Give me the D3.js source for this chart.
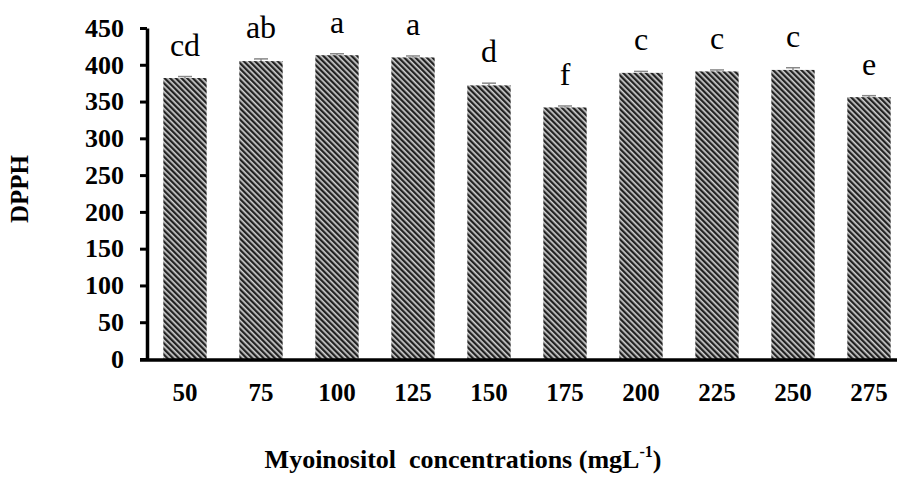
<!DOCTYPE html>
<html>
<head>
<meta charset="utf-8">
<script src="https://cdn.jsdelivr.net/npm/d3@7"></script>
<style>
  body { margin: 0; background: #fff; }
  svg { display: block; }
</style>
</head>
<body>
<script>
// data
var concentrations = ["50", "75", "100", "125", "150", "175", "200", "225", "250", "275"];
var dpph = [382, 405, 413, 410, 372, 342, 389, 391, 393, 356];
var errors = [2, 3, 2, 2, 3, 2, 2, 2, 3, 2];
var letters = ["cd", "ab", "a", "a", "d", "f", "c", "c", "c", "e"];
var yTicks = [0, 50, 100, 150, 200, 250, 300, 350, 400, 450];

var width = 897, height = 478;
var x0 = 147, y0 = 359, yTop = 28;

var svg = d3.select("body").append("svg")
  .attr("width", width)
  .attr("height", height)
  .attr("font-family", "'Liberation Serif', 'Times New Roman', serif");

// hatch fill like the original bars
var pat = svg.append("defs").append("pattern")
  .attr("id", "hatch")
  .attr("patternUnits", "userSpaceOnUse")
  .attr("width", 4)
  .attr("height", 4)
  .attr("patternTransform", "rotate(-45)");
pat.append("rect").attr("width", 4).attr("height", 4).attr("fill", "#cfcfcf");
pat.append("rect").attr("width", 2.3).attr("height", 4).attr("fill", "#222");

var x = d3.scaleBand()
  .domain(concentrations)
  .range([x0, x0 + 76 * concentrations.length])
  .paddingInner(0.43)
  .paddingOuter(0.215);

var y = d3.scaleLinear().domain([0, 450]).range([y0, yTop]);

// bars
svg.append("g").selectAll("rect")
  .data(dpph)
  .join("rect")
    .attr("x", (d, i) => x(concentrations[i]))
    .attr("y", d => y(d))
    .attr("width", x.bandwidth())
    .attr("height", d => y0 - y(d))
    .attr("fill", "url(#hatch)");

// error bars
var eb = svg.append("g").attr("stroke", "#888").attr("stroke-width", 1.5);
eb.selectAll("line.v")
  .data(dpph)
  .join("line")
    .attr("x1", (d, i) => x(concentrations[i]) + x.bandwidth() / 2)
    .attr("x2", (d, i) => x(concentrations[i]) + x.bandwidth() / 2)
    .attr("y1", d => y(d))
    .attr("y2", (d, i) => y(d + errors[i]));
eb.selectAll("line.cap")
  .data(dpph)
  .join("line")
    .attr("x1", (d, i) => x(concentrations[i]) + x.bandwidth() / 2 - 7)
    .attr("x2", (d, i) => x(concentrations[i]) + x.bandwidth() / 2 + 7)
    .attr("y1", (d, i) => y(d + errors[i]))
    .attr("y2", (d, i) => y(d + errors[i]));

// significance letters
svg.append("g").selectAll("text")
  .data(letters)
  .join("text")
    .attr("x", (d, i) => x(concentrations[i]) + x.bandwidth() / 2)
    .attr("y", (d, i) => y(dpph[i] + errors[i]) - 21)
    .attr("text-anchor", "middle")
    .attr("font-size", 32)
    .text(d => d);

// y axis
var yAxis = svg.append("g")
  .attr("transform", `translate(${x0},0)`)
  .call(d3.axisLeft(y).tickValues(yTicks).tickSize(7).tickPadding(16).tickSizeOuter(0));
yAxis.select(".domain").attr("stroke", "#000").attr("stroke-width", 3.5);
yAxis.selectAll(".tick line").attr("stroke", "#000").attr("stroke-width", 3);
yAxis.selectAll(".tick text")
  .attr("font-family", "'Liberation Serif', serif")
  .attr("font-size", 26)
  .attr("font-weight", "bold")
  .attr("fill", "#000");

// x axis
svg.append("line")
  .attr("x1", x0 - 7).attr("x2", width)
  .attr("y1", y0 + 1).attr("y2", y0 + 1)
  .attr("stroke", "#000").attr("stroke-width", 3.5);

svg.append("g").selectAll("text")
  .data(concentrations)
  .join("text")
    .attr("x", d => x(d) + x.bandwidth() / 2)
    .attr("y", 401)
    .attr("text-anchor", "middle")
    .attr("font-size", 25)
    .attr("font-weight", "bold")
    .text(d => d);

// axis titles
var xt = svg.append("text")
  .attr("x", 463)
  .attr("y", 468)
  .attr("text-anchor", "middle")
  .attr("font-size", 26)
  .attr("font-weight", "bold")
  .style("white-space", "pre");
xt.append("tspan").text("Myoinositol  concentrations (mgL");
xt.append("tspan").attr("font-size", 16).attr("dy", -11).text("-1");
xt.append("tspan").attr("dy", 11).text(")");

svg.append("text")
  .attr("transform", "translate(28,189) rotate(-90)")
  .attr("text-anchor", "middle")
  .attr("font-size", 25)
  .attr("font-weight", "bold")
  .text("DPPH");
</script>
</body>
</html>
